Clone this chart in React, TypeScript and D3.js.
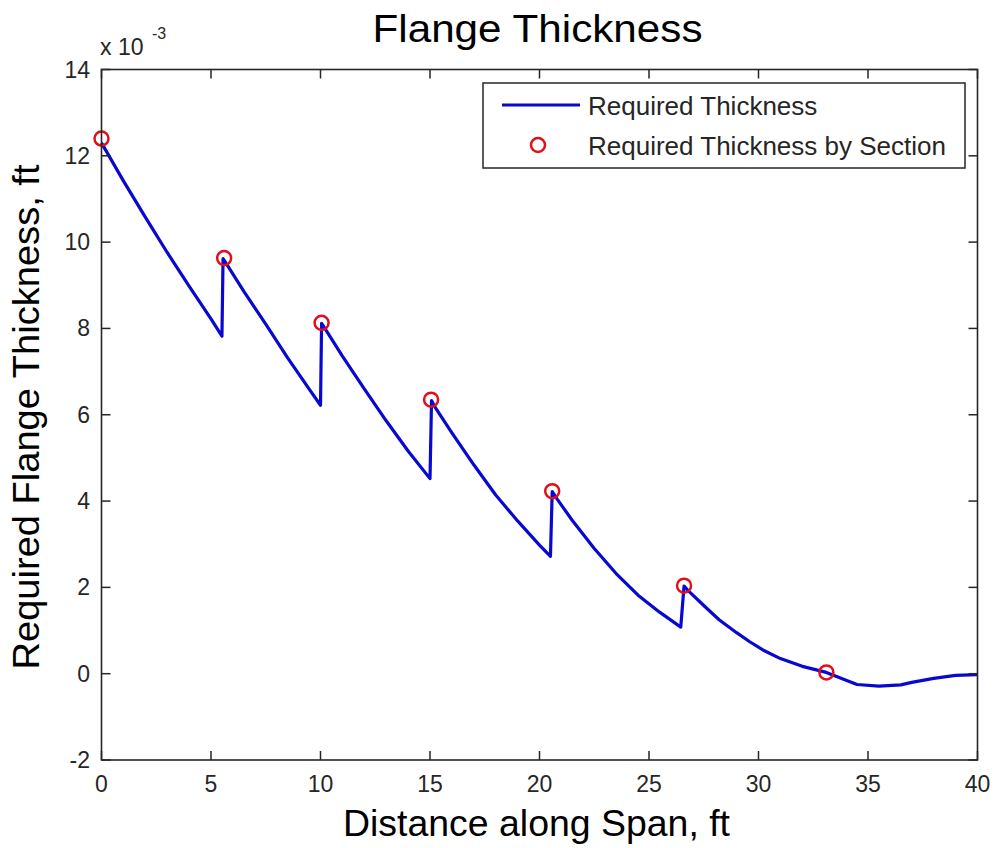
import React from "react";
import * as d3 from "d3";

const lineX = [0, 1, 2, 3, 4, 5, 5.5, 5.55, 5.7, 6.5, 7.5, 8.5, 9.5, 10.0, 10.05, 10.2, 11, 12, 13, 14, 15.0, 15.07, 15.2, 16, 17, 18, 19, 20, 20.5, 20.58, 20.8, 21.5, 22.5, 23.5, 24.5, 25.5, 26.45, 26.6, 26.8, 27.5, 28.2, 29, 29.6, 30.2, 31, 32, 33.1, 34, 34.5, 35.5, 36.5, 37, 38, 39, 40];
const lineY = [12.3, 11.42, 10.58, 9.76, 8.98, 8.22, 7.82, 9.62, 9.5, 8.86, 8.1, 7.32, 6.58, 6.22, 8.12, 8.0, 7.36, 6.6, 5.86, 5.16, 4.52, 6.33, 6.2, 5.58, 4.84, 4.14, 3.54, 2.98, 2.72, 4.22, 4.05, 3.55, 2.9, 2.32, 1.82, 1.42, 1.08, 2.03, 1.92, 1.58, 1.25, 0.95, 0.74, 0.55, 0.35, 0.17, 0.03, -0.15, -0.25, -0.29, -0.26, -0.2, -0.11, -0.04, -0.02];

const sectionX = [0, 5.6, 10.05, 15.05, 20.58, 26.6, 33.1];
const sectionY = [12.4, 9.63, 8.13, 6.35, 4.23, 2.04, 0.03];

const xTicks = [0, 5, 10, 15, 20, 25, 30, 35, 40];
const yTicks = [-2, 0, 2, 4, 6, 8, 10, 12, 14];

const W = 995, H = 848;
const L = 101.5, R = 977.5, T = 69.5, B = 760;
const FONT = "'Liberation Sans', Arial, Helvetica, sans-serif";

export default function App() {
  const x = d3.scaleLinear().domain([0, 40]).range([L, R]);
  const y = d3.scaleLinear().domain([-2, 14]).range([B, T]);
  const line = d3.line<number>().x((d, i) => x(lineX[i])).y((d, i) => y(lineY[i]));
  const tk = 9;
  const axisColor = "#262626";
  const blue = "#0808d0";
  const red = "#e0101a";
  return (
    <svg width={W} height={H} style={{ position: "absolute", left: 0, top: 0, background: "#fff" }} fontFamily={FONT}>
      <rect x={0} y={0} width={W} height={H} fill="#fff" />
      <path d={line(lineY) || ""} fill="none" stroke={blue} strokeWidth={3.2} strokeLinejoin="round" />
      {sectionX.map((sx, i) => (
        <circle key={i} cx={x(sx)} cy={y(sectionY[i])} r={7} fill="none" stroke={red} strokeWidth={2.5} />
      ))}
      <rect x={L} y={T} width={R - L} height={B - T} fill="none" stroke={axisColor} strokeWidth={1.6} />
      {xTicks.map((t) => (
        <g key={"x" + t}>
          <line x1={x(t)} x2={x(t)} y1={B} y2={B - tk} stroke={axisColor} strokeWidth={1.5} />
          <line x1={x(t)} x2={x(t)} y1={T} y2={T + tk} stroke={axisColor} strokeWidth={1.5} />
          <text x={x(t)} y={792} textAnchor="middle" fontSize={23} fill={axisColor}>{t}</text>
        </g>
      ))}
      {yTicks.map((t) => (
        <g key={"y" + t}>
          <line x1={L} x2={L + tk} y1={y(t)} y2={y(t)} stroke={axisColor} strokeWidth={1.5} />
          <line x1={R} x2={R - tk} y1={y(t)} y2={y(t)} stroke={axisColor} strokeWidth={1.5} />
          <text x={90} y={y(t) + 8} textAnchor="end" fontSize={23} fill={axisColor}>{t}</text>
        </g>
      ))}
      <text x={100} y={55} fontSize={23} fill={axisColor}>x 10</text>
      <text x={152} y={39} fontSize={16} fill={axisColor}>-3</text>
      <text x={537.5} y={42} textAnchor="middle" fontSize={38} fill="#000" textLength={330} lengthAdjust="spacingAndGlyphs">Flange Thickness</text>
      <text x={536.5} y={836} textAnchor="middle" fontSize={36} fill="#000" textLength={387} lengthAdjust="spacingAndGlyphs">Distance along Span, ft</text>
      <text transform={`translate(39,417) rotate(-90)`} textAnchor="middle" fontSize={37} fill="#000" textLength={505} lengthAdjust="spacingAndGlyphs">Required Flange Thickness, ft</text>
      <rect x={483} y={83} width={482} height={85} fill="#fff" stroke={axisColor} strokeWidth={1.5} />
      <line x1={502} x2={580} y1={105} y2={105} stroke={blue} strokeWidth={3.2} />
      <text x={588} y={115} fontSize={26} fill={axisColor}>Required Thickness</text>
      <circle cx={538} cy={145} r={7} fill="none" stroke={red} strokeWidth={2.5} />
      <text x={588} y={155} fontSize={26} fill={axisColor}>Required Thickness by Section</text>
    </svg>
  );
}
